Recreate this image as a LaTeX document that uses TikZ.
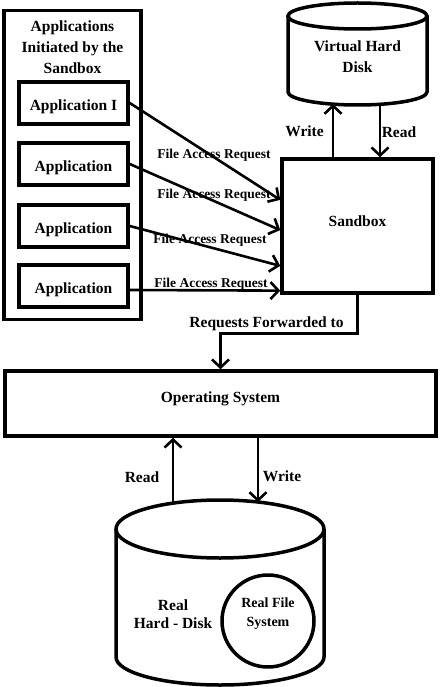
\documentclass[tikz,border=0pt]{standalone}
\usepackage{fontspec}
\setmainfont{Liberation Serif}
\usetikzlibrary{arrows.meta,calc}
\begin{document}
\begin{tikzpicture}[x=1pt,y=-1pt,
  box/.style={draw,line width=3.5pt,inner sep=0pt},
  arr/.style={line width=2.6pt,-{Straight Barb[length=8pt,width=17pt,line width=2.6pt]}},
  lbl/.style={font=\fontsize{15.5}{21}\selectfont\bfseries,inner sep=0pt,align=center},
  small/.style={font=\fontsize{14}{19}\selectfont\bfseries,inner sep=0pt,align=center},
  req/.style={font=\fontsize{13.5}{16}\selectfont\bfseries,inner sep=0pt}]
\useasboundingbox (0,0) rectangle (441,687);

% left group
\node[box,minimum width=137pt,minimum height=309pt] (grp) at (72.5,165) {};
\node[lbl] (title) at (72.5,47) {Applications\\Initiated by the\\Sandbox};
\node[box,minimum width=109pt,minimum height=42pt] (a1) at (73.5,103) {};
\node[box,minimum width=109pt,minimum height=42pt] (a2) at (73.5,164) {};
\node[box,minimum width=109pt,minimum height=42pt] (a3) at (73.5,226) {};
\node[box,minimum width=109pt,minimum height=42pt] (a4) at (73.5,286) {};
\node[lbl] (t1) at ($(a1)+(0,4)$) {Application I};
\node[lbl] (t2) at ($(a2)+(0,4)$) {Application};
\node[lbl] (t3) at ($(a3)+(0,4)$) {Application};
\node[lbl] (t4) at ($(a4)+(0,4)$) {Application};

% sandbox
\node[box,minimum width=151pt,minimum height=134pt] (sb) at (357.5,226) {};
\node[lbl] (sbt) at (357.5,221) {Sandbox};

% virtual hard disk
\draw[line width=3.5pt] (288,16) -- (288,92) arc[start angle=180,end angle=360,x radius=69.5pt,y radius=13pt] -- (427,16);
\draw[line width=3.5pt] (357.5,16) ellipse[x radius=69.5pt,y radius=13pt];
\node[lbl] (vhd) at (357.5,56.5) {Virtual Hard\\Disk};
\coordinate (vhdW) at (333,104);
\coordinate (vhdR) at (380,104);

% request labels
\node[req] (r1) at (214,155) {File Access Request};
\node[req] (r2) at (214,195) {File Access Request};
\node[req] (r3) at (210,240) {File Access Request};
\node[req] (r4) at (211,284) {File Access Request};

% arrows apps -> sandbox
\draw[arr] (a1.east) -- ($(sb.north west)!0.31!(sb.south west)$);
\draw[arr] (a2.east) -- ($(sb.north west)!0.53!(sb.south west)$);
\draw[arr] (a3.east) -- ($(sb.north west)!0.79!(sb.south west)$);
\draw[arr] ($(a4.east)+(0,4)$) -- ($(sb.north west)!0.97!(sb.south west)$);

% sandbox <-> virtual disk
\draw[arr] (sb.north -| vhdW) -- (vhdW);
\draw[arr] (vhdR) -- (sb.north -| vhdR);
\node[lbl] (wl1) at (304.5,131) {Write};
\node[lbl] (rl1) at (399,132) {Read};

% operating system
\node[box,minimum width=431pt,minimum height=65pt] (os) at (220.5,403.5) {};
\node[lbl] (ost) at (220.5,399) {Operating System};
\draw[arr] (sb.south) -- ++(0,39) -| (os.north);
\node[lbl] (fwd) at (266.5,324) {Requests Forwarded to};

% real hard disk
\draw[line width=3.5pt] (116,529) -- (116,657) arc[start angle=180,end angle=360,x radius=104pt,y radius=28pt] -- (324,529);
\draw[line width=3.5pt] (220,529) ellipse[x radius=104pt,y radius=29pt];
\coordinate (rhdR) at (173,503);
\coordinate (rhdW) at (258,502);
\node[lbl,font=\fontsize{15.5}{18}\selectfont\bfseries] (rhd) at (173,614) {Real\\Hard - Disk};
\node[draw,circle,line width=3.5pt,minimum size=92pt] (rfs) at (268,621) {};
\node[small] (rfst) at (268,614) {Real File\\System};

\draw[arr] (rhdR) -- (rhdR |- os.south);
\draw[arr] (rhdW |- os.south) -- (rhdW);
\node[lbl] (rl2) at (142,477) {Read};
\node[lbl] (wl2) at (282,476) {Write};
\end{tikzpicture}
\end{document}
